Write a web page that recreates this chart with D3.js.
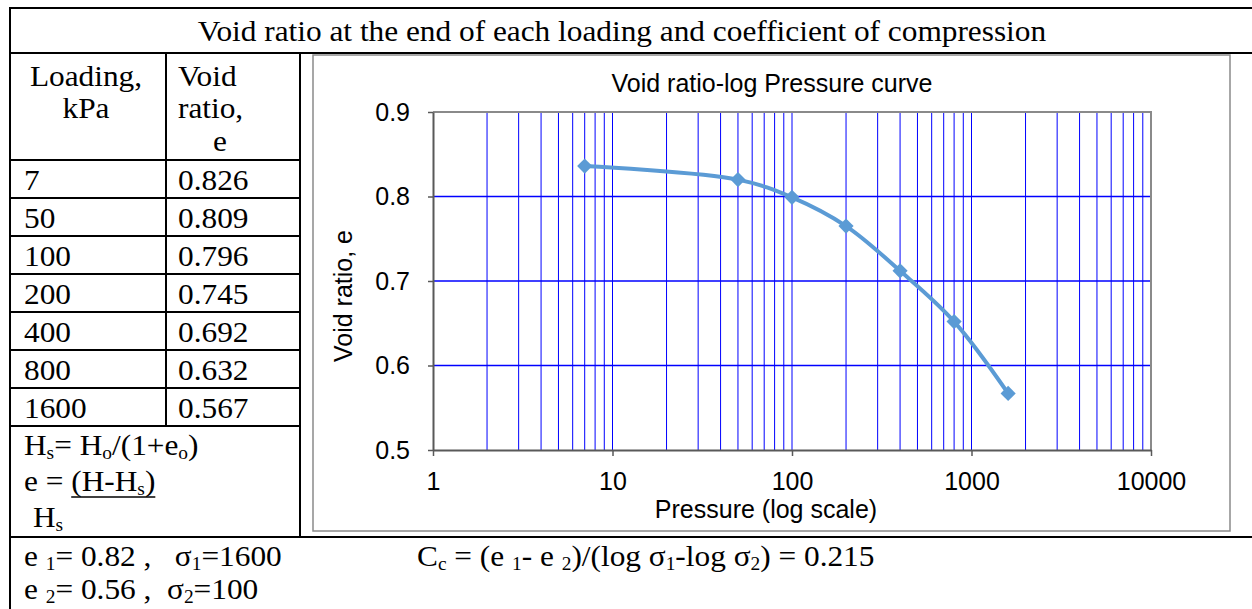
<!DOCTYPE html>
<html>
<head>
<meta charset="utf-8">
<script src="https://cdn.jsdelivr.net/npm/d3@7/dist/d3.min.js"></script>
<style>
body { margin: 0; background: #fff; }
text { white-space: pre; }
</style>
</head>
<body>
<div id="sheet"></div>
<script>
// table columns
var loadings = [7, 50, 100, 200, 400, 800, 1600];
var voidRatios = [0.826, 0.809, 0.796, 0.745, 0.692, 0.632, 0.567];
// points as they are drawn on the chart
var curvePressure = [7, 50, 100, 200, 400, 800, 1600];
var curveVoid = [0.836, 0.820, 0.799, 0.765, 0.712, 0.652, 0.567];
var xTicks = [1, 10, 100, 1000, 10000];
var yTicks = [0.5, 0.6, 0.7, 0.8, 0.9];

var W = 1252, H = 609;
var serif = '"Liberation Serif","Times New Roman",serif';
var sans = '"Liberation Sans",Arial,sans-serif';
var serifSize = 29, subSize = 18, stretch = 1.08;
var sansSize = 25;

var svg = d3.select('#sheet').append('svg')
	.attr('width', W)
	.attr('height', H);

// serif text with optional subscript parts: parts are strings or {t:'..', sub:true, u:true}
function rich(x, y, parts, anchor){
	var g = svg.append('g')
		.attr('transform', 'translate(' + x + ',' + y + ') scale(' + stretch + ',1)');
	var t = g.append('text')
		.attr('font-family', serif)
		.attr('font-size', serifSize)
		.attr('text-anchor', anchor || 'start')
		.attr('fill', '#000');
	var shift = 0, pos = 0, uStart = null, uEnd = null;
	parts.forEach(function(p){
		var s = typeof p === 'string' ? {t: p} : p;
		var want = s.sub ? 4 : 0;
		var ts = t.append('tspan').text(s.t).attr('dy', want - shift);
		if(s.sub){ ts.attr('font-size', subSize); }
		var len = ts.node().getComputedTextLength();
		if(s.u){
			if(uStart === null){ uStart = pos; }
			uEnd = pos + len;
		}
		pos += len;
		shift = want;
	});
	// single underline below the marked parts
	if(uStart !== null){
		g.append('line')
			.attr('x1', uStart).attr('x2', uEnd)
			.attr('y1', 6).attr('y2', 6)
			.attr('stroke', '#000')
			.attr('stroke-width', 1.5);
	}
	return t;
}

// ---- table grid ----
var left = 10, col1 = 166, col2 = 300;
var top0 = 8, titleBottom = 53, headBottom = 160, rowH = 38;
var rowTop = function(i){ return headBottom + i*rowH; };
var tableBottom = rowTop(loadings.length);
var formulaBottom = 537;

var grid = svg.append('g')
	.attr('stroke', '#000')
	.attr('stroke-width', 2);
function hline(y, x1, x2){ grid.append('line').attr('x1', x1).attr('x2', x2).attr('y1', y).attr('y2', y); }
function vline(x, y1, y2){ grid.append('line').attr('x1', x).attr('x2', x).attr('y1', y1).attr('y2', y2); }

hline(top0, left - 1, W);
hline(titleBottom, left, W);
hline(headBottom, left, col2);
loadings.forEach(function(d, i){ hline(rowTop(i + 1), left, col2); });
hline(formulaBottom, left, W);
vline(left, top0, H);
vline(col1, titleBottom, tableBottom);
vline(col2, titleBottom, formulaBottom);

// ---- table text ----
rich(622, 41, ['Void ratio at the end of each loading and coefficient of compression'], 'middle');
rich(86, 86, ['Loading,'], 'middle');
rich(86, 118, ['kPa'], 'middle');
rich(178, 86, ['Void']);
rich(178, 118, ['ratio,']);
rich(213, 151, ['e']);

loadings.forEach(function(d, i){
	rich(24, rowTop(i) + 30, [String(d)]);
	rich(178, rowTop(i) + 30, [d3.format('.3f')(voidRatios[i])]);
});

rich(24, 455, ['H', {t: 's', sub: true}, '= H', {t: 'o', sub: true}, '/(1+e', {t: 'o', sub: true}, ')']);
rich(24, 491, ['e = ', {t: '(H-H', u: true}, {t: 's', sub: true, u: true}, {t: ')', u: true}]);
rich(33, 527, ['H', {t: 's', sub: true}]);

rich(24, 566, ['e ', {t: '1', sub: true}, '= 0.82 ,   σ', {t: '1', sub: true}, '=1600']);
rich(24, 599, ['e ', {t: '2', sub: true}, '= 0.56 ,  σ', {t: '2', sub: true}, '=100']);
rich(417, 566, ['C', {t: 'c', sub: true}, ' = (e ', {t: '1', sub: true}, '- e ', {t: '2', sub: true},
	')/(log σ', {t: '1', sub: true}, '-log σ', {t: '2', sub: true}, ') = 0.215']);

// ---- chart ----
svg.append('rect')
	.attr('x', 313).attr('y', titleBottom + 2)
	.attr('width', 917).attr('height', 531 - titleBottom - 2)
	.attr('fill', '#fff')
	.attr('stroke', '#8a8a8a')
	.attr('stroke-width', 1.5);

var x = d3.scaleLog().domain([xTicks[0], xTicks[xTicks.length - 1]]).range([433, 1151]);
var y = d3.scaleLinear().domain([yTicks[0], yTicks[yTicks.length - 1]]).range([450, 112]);

var chart = svg.append('g').attr('class', 'chart');

// vertical grid at every log tick
chart.append('g').attr('class', 'xgrid')
	.selectAll('line')
	.data(x.ticks().filter(function(d){ return d > xTicks[0] && d < xTicks[xTicks.length - 1]; }))
	.enter().append('line')
	.attr('x1', function(d){ return x(d); })
	.attr('x2', function(d){ return x(d); })
	.attr('y1', y.range()[1])
	.attr('y2', y.range()[0])
	.attr('stroke', '#0000ff')
	.attr('stroke-width', 1);

chart.append('g').attr('class', 'ygrid')
	.selectAll('line')
	.data(yTicks.slice(1, -1))
	.enter().append('line')
	.attr('x1', x.range()[0])
	.attr('x2', x.range()[1])
	.attr('y1', function(d){ return y(d); })
	.attr('y2', function(d){ return y(d); })
	.attr('stroke', '#0000ff')
	.attr('stroke-width', 1.3);

// plot border top/right
chart.append('path')
	.attr('d', 'M' + x.range()[0] + ',' + y.range()[1] + 'H' + x.range()[1] + 'V' + y.range()[0])
	.attr('fill', 'none')
	.attr('stroke', '#8a8a8a')
	.attr('stroke-width', 2);

var xAxis = chart.append('g')
	.attr('transform', 'translate(0,' + y.range()[0] + ')')
	.call(d3.axisBottom(x).tickValues(xTicks).tickFormat(d3.format('d')).tickSize(6).tickPadding(16).tickSizeOuter(0));
var yAxis = chart.append('g')
	.attr('transform', 'translate(' + x.range()[0] + ',0)')
	.call(d3.axisLeft(y).tickValues(yTicks).tickFormat(d3.format('.1f')).tickSize(5).tickPadding(18).tickSizeOuter(0));

[xAxis, yAxis].forEach(function(a){
	a.select('.domain').attr('stroke', '#595959').attr('stroke-width', 2);
	a.selectAll('.tick line').attr('stroke', '#595959').attr('stroke-width', 1.5);
	a.selectAll('.tick text')
		.attr('font-family', sans)
		.attr('font-size', sansSize)
		.attr('fill', '#000');
});

// curve and markers
var pts = curvePressure.map(function(p, i){ return [p, curveVoid[i]]; });
var line = d3.line()
	.x(function(d){ return x(d[0]); })
	.y(function(d){ return y(d[1]); })
	.curve(d3.curveCatmullRom.alpha(0.5));

chart.append('path')
	.datum(pts)
	.attr('d', line)
	.attr('fill', 'none')
	.attr('stroke', '#5b9bd5')
	.attr('stroke-width', 4);

chart.selectAll('path.marker')
	.data(pts)
	.enter().append('path')
	.attr('class', 'marker')
	.attr('d', d3.symbol(d3.symbolSquare, 115))
	.attr('transform', function(d){ return 'translate(' + x(d[0]) + ',' + y(d[1]) + ') rotate(45)'; })
	.attr('fill', '#5b9bd5');

// titles
chart.append('text')
	.attr('x', 772).attr('y', 92)
	.attr('text-anchor', 'middle')
	.attr('font-family', sans).attr('font-size', sansSize)
	.text('Void ratio-log Pressure curve');
chart.append('text')
	.attr('x', 766).attr('y', 518)
	.attr('text-anchor', 'middle')
	.attr('font-family', sans).attr('font-size', sansSize)
	.text('Pressure (log scale)');
chart.append('text')
	.attr('transform', 'translate(352,296) rotate(-90)')
	.attr('text-anchor', 'middle')
	.attr('font-family', sans).attr('font-size', sansSize)
	.text('Void ratio, e');
</script>
</body>
</html>
